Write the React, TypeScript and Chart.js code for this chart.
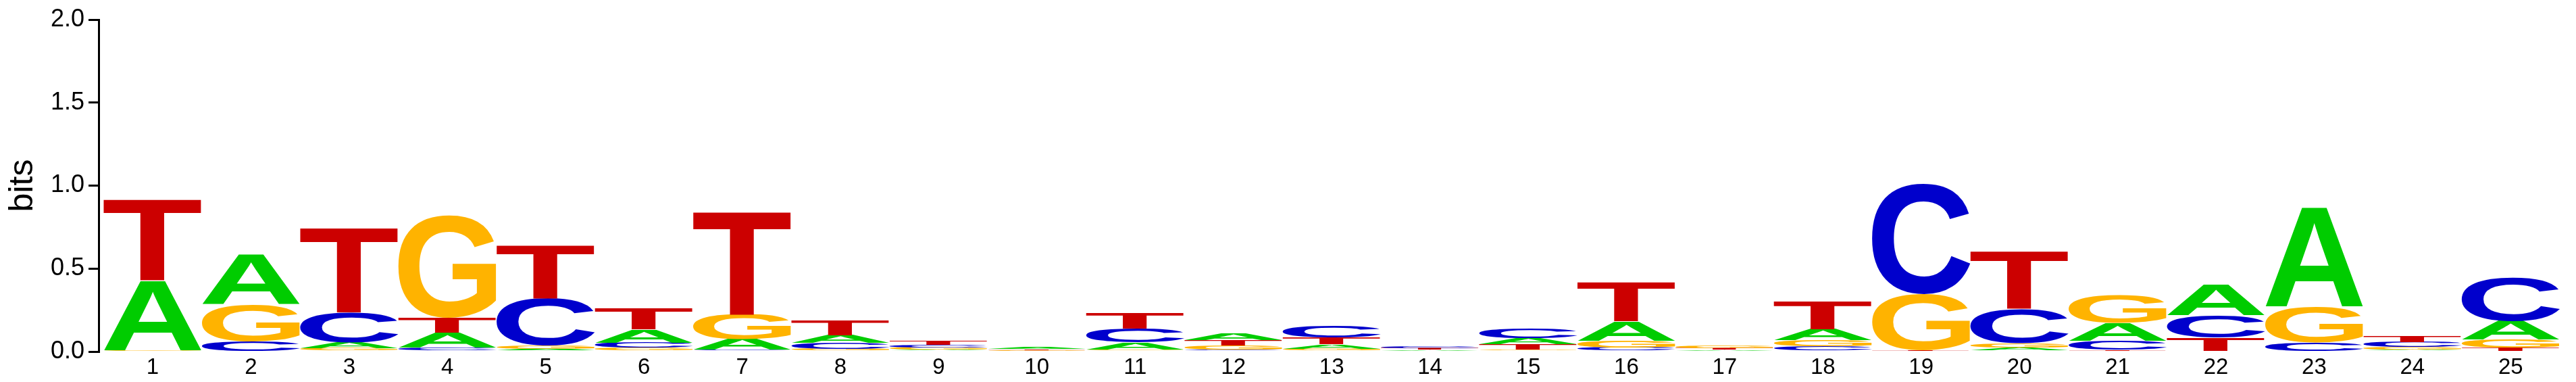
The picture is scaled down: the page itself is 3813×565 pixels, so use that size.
import React, { useEffect, useRef } from "react";
import { Chart, registerables } from "chart.js";

Chart.register(...registerables);

const positions = [1, 2, 3, 4, 5, 6, 7, 8, 9, 10, 11, 12, 13, 14, 15, 16, 17, 18, 19, 20, 21, 22, 23, 24, 25];
const bitsA = [0.42, 0.3, 0.034, 0.089, 0.016, 0.079, 0.065, 0.047, 0.011, 0.008, 0.043, 0.039, 0.026, 0.006, 0.038, 0.116, 0.007, 0.065, 0.003, 0.024, 0.106, 0.185, 0.598, 0.011, 0.113];
const bitsC = [0.003, 0.058, 0.184, 0.024, 0.286, 0.032, 0.011, 0.036, 0.017, 0.004, 0.086, 0.011, 0.07, 0.012, 0.058, 0.0245, 0.005, 0.031, 0.667, 0.204, 0.054, 0.134, 0.05, 0.0315, 0.265];
const bitsG = [0.004, 0.22, 0.02, 0.615, 0.02, 0.022, 0.148, 0.016, 0.013, 0.005, 0.011, 0.027, 0.017, 0.005, 0.011, 0.041, 0.014, 0.037, 0.34, 0.028, 0.166, 0.004, 0.213, 0.016, 0.047];
const bitsT = [0.49, 0.005, 0.51, 0.09, 0.322, 0.128, 0.622, 0.086, 0.027, 0.006, 0.094, 0.03, 0.0425, 0.009, 0.032, 0.238, 0.009, 0.167, 0.004, 0.349, 0.012, 0.08, 0.004, 0.034, 0.0245];
const yTicks = [0, 0.5, 1, 1.5, 2];
const letters = ["A", "C", "G", "T"];
const letterColors: Record<string, string> = { A: "#00CC00", C: "#0000CC", G: "#FFB300", T: "#CC0000" };
const yTitle = "bits";

const FONT = "'Liberation Sans', Arial, sans-serif";
const GLYPH_FONT = "bold 200px 'Liberation Sans', Arial, sans-serif";

function buildRankDatasets() {
  const series: Record<string, number[]> = { A: bitsA, C: bitsC, G: bitsG, T: bitsT };
  const ranks = [0, 1, 2, 3].map(() => ({ data: [] as { x: number; y: number }[], letters: [] as string[] }));
  positions.forEach((p, i) => {
    const sorted = letters.map((l) => ({ l, v: series[l][i] })).sort((a, b) => a.v - b.v);
    sorted.forEach((s, k) => {
      ranks[k].data.push({ x: p, y: s.v });
      ranks[k].letters.push(s.l);
    });
  });
  return ranks.map((r, k) => ({
    label: `rank ${k}`,
    data: r.data,
    letters: r.letters,
    backgroundColor: "rgba(0,0,0,0)",
    borderWidth: 0,
    stack: "logo",
    barPercentage: 1,
    categoryPercentage: 1,
  }));
}

const glyphCache: Record<string, { left: number; right: number; ascent: number; descent: number }> = {};
function glyphBox(ctx: CanvasRenderingContext2D, L: string) {
  if (!glyphCache[L]) {
    ctx.save();
    ctx.font = GLYPH_FONT;
    const m = ctx.measureText(L);
    glyphCache[L] = {
      left: m.actualBoundingBoxLeft,
      right: m.actualBoundingBoxRight,
      ascent: m.actualBoundingBoxAscent,
      descent: m.actualBoundingBoxDescent,
    };
    ctx.restore();
  }
  return glyphCache[L];
}

const letterPlugin = {
  id: "letterPlugin",
  afterDatasetsDraw(chart: any) {
    const ctx: CanvasRenderingContext2D = chart.ctx;
    chart.data.datasets.forEach((ds: any, di: number) => {
      const meta = chart.getDatasetMeta(di);
      meta.data.forEach((bar: any, j: number) => {
        const { x, y, base, width } = bar.getProps(["x", "y", "base", "width"], true);
        const h = base - y;
        if (h <= 0.05) return;
        const L = ds.letters[j];
        const b = glyphBox(ctx, L);
        const gw = b.left + b.right;
        const gh = b.ascent + b.descent;
        ctx.save();
        ctx.font = GLYPH_FONT;
        ctx.fillStyle = letterColors[L];
        ctx.textAlign = "left";
        ctx.textBaseline = "alphabetic";
        ctx.translate(x - width / 2, y);
        ctx.scale(width / gw, h / gh);
        ctx.fillText(L, b.left, b.ascent);
        ctx.restore();
      });
    });
  },
};

export default function App() {
  const ref = useRef<HTMLCanvasElement | null>(null);
  useEffect(() => {
    if (!ref.current) return;
    Chart.defaults.font.family = FONT;
    const chart = new Chart(ref.current, {
      type: "bar",
      data: { datasets: buildRankDatasets() as any },
      options: {
        animation: false,
        responsive: false,
        maintainAspectRatio: false,
        layout: { padding: { top: 29, right: 24, left: 0, bottom: 0 } },
        plugins: { legend: { display: false }, tooltip: { enabled: false } },
        scales: {
          x: {
            type: "linear",
            min: 0.45,
            max: 25.5,
            offset: false,
            stacked: true,
            afterBuildTicks: (s: any) => {
              s.ticks = positions.map((v) => ({ value: v }));
            },
            afterFit: (s: any) => {
              s.height = 45;
            },
            ticks: {
              autoSkip: false,
              maxRotation: 0,
              padding: -4,
              color: "#000",
              font: { size: 33, family: FONT },
              callback: (v: any) => String(v),
            },
            grid: { display: false, offset: false },
            border: { display: false },
          },
          y: {
            type: "linear",
            min: 0,
            max: 2,
            stacked: true,
            afterBuildTicks: (s: any) => {
              s.ticks = yTicks.map((v) => ({ value: v }));
            },
            afterFit: (s: any) => {
              s.width = 146;
            },
            ticks: {
              padding: 6,
              color: "#000",
              font: { size: 36, family: FONT },
              callback: (v: any) => Number(v).toFixed(1),
            },
            grid: {
              display: true,
              drawOnChartArea: false,
              drawTicks: true,
              tickLength: 15,
              color: "#000",
              lineWidth: 3,
            },
            border: { display: true, color: "#000", width: 3 },
            title: {
              display: true,
              text: yTitle,
              color: "#000",
              font: { size: 50, family: FONT },
              padding: { top: 4, bottom: 0 },
            },
          },
        },
      },
      plugins: [letterPlugin],
    });
    return () => chart.destroy();
  }, []);
  return (
    <canvas
      ref={ref}
      width={3813}
      height={565}
      style={{ position: "fixed", left: 0, top: 0, width: 3813, height: 565, display: "block", background: "#fff" }}
    />
  );
}
